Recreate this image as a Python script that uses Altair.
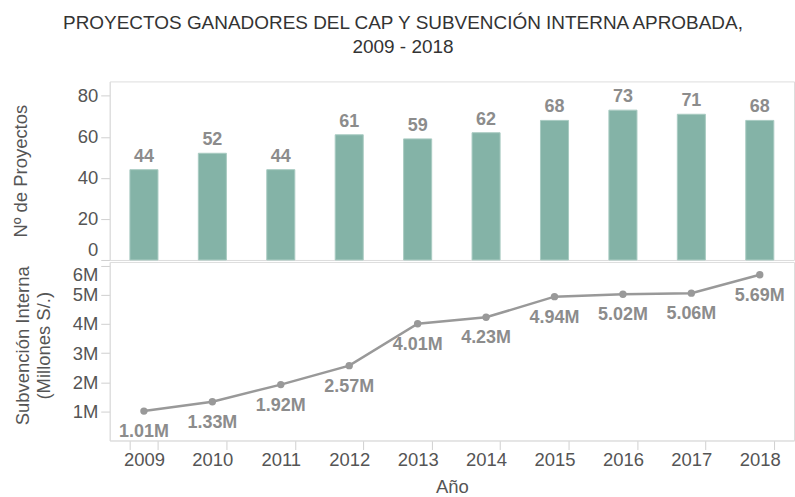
import altair as alt
import pandas as pd

years = ["2009", "2010", "2011", "2012", "2013", "2014", "2015", "2016", "2017", "2018"]
proyectos = [44, 52, 44, 61, 59, 62, 68, 73, 71, 68]
subvencion = [1010000, 1330000, 1920000, 2570000, 4010000, 4230000, 4940000, 5020000, 5060000, 5690000]
y1_ticks = [0, 20, 40, 60, 80]
y2_ticks = [1000000, 2000000, 3000000, 4000000, 5000000, 6000000]

df = pd.DataFrame({"Año": years, "Proyectos": proyectos, "Subvencion": subvencion})

FONT = "Liberation Sans"
W = 686
H = 179
xscale = alt.Scale(type="band", domain=years, paddingInner=0.59, paddingOuter=0.295)

bars = alt.Chart(df).mark_bar(color="#84b3a7", stroke="#a9cbc2", strokeWidth=1).encode(
    x=alt.X("Año:N", scale=xscale, axis=None),
    y=alt.Y("Proyectos:Q", scale=alt.Scale(domain=[0, 87], nice=False),
            axis=alt.Axis(values=y1_ticks, title="Nº de Proyectos", grid=False,
                          labelFlush=True, titleX=-89, titleY=H / 2, titleBaseline="middle",
                          titleAngle=270)),
)
bar_text = alt.Chart(df).mark_text(baseline="bottom", dy=-4, fontWeight="bold", fontSize=18,
                                   color="#8c8c8c", font=FONT).encode(
    x=alt.X("Año:N", scale=xscale, axis=None, bandPosition=0.5),
    y=alt.Y("Proyectos:Q"),
    text="Proyectos:Q",
)
top = (bars + bar_text).properties(width=W, height=H)

xb = alt.X("Año:N", scale=xscale, bandPosition=0.5,
           axis=alt.Axis(title="Año", labelAngle=0, tickBand="extent", grid=False,
                         tickSize=9, labelPadding=1, titlePadding=9))
yb = alt.Y("Subvencion:Q", scale=alt.Scale(domain=[0, 6130000], nice=False),
           axis=alt.Axis(values=y2_ticks, format="~s", grid=False,
                         title=["Subvención Interna", "(Millones S/.)"],
                         titleX=-87, titleY=H / 2 - 6, titleBaseline="middle", titleAngle=270,
                         labelBaseline=alt.condition("datum.value == 6000000", alt.value("top"), alt.value("middle"))))
line = alt.Chart(df).mark_line(color="#999999", strokeWidth=2.5).encode(x=xb, y=yb)
pts = alt.Chart(df).mark_point(filled=True, color="#999999", size=55, opacity=1).encode(x=xb, y=yb)
ltext = alt.Chart(df).transform_calculate(lab="format(datum.Subvencion, '.3s')").mark_text(
    baseline="middle", dy=21, fontWeight="bold", fontSize=18, color="#8c8c8c", font=FONT).encode(
    x=xb, y=yb, text="lab:N")
bottom = (line + pts + ltext).properties(width=W, height=H)

chart = alt.vconcat(top, bottom, spacing=0).properties(
    title=alt.TitleParams(["PROYECTOS GANADORES DEL CAP Y SUBVENCIÓN INTERNA APROBADA,", "2009 - 2018"],
                          anchor="middle", fontSize=19, fontWeight="normal", color="#333333",
                          font=FONT, lineHeight=24, offset=24),
    padding={"left": 11, "top": 13, "right": 0, "bottom": 0},
).configure_view(stroke="#dddddd").configure_axis(
    labelFont=FONT, titleFont=FONT, labelFontSize=18.5, titleFontSize=18.5,
    labelColor="#555555", titleColor="#555555", titleFontWeight="normal",
    domainColor="#dddddd", tickColor="#d0d0d0", tickSize=9, labelPadding=3,
)

chart.save("out.html", embed_options={"renderer": "svg", "actions": False})
